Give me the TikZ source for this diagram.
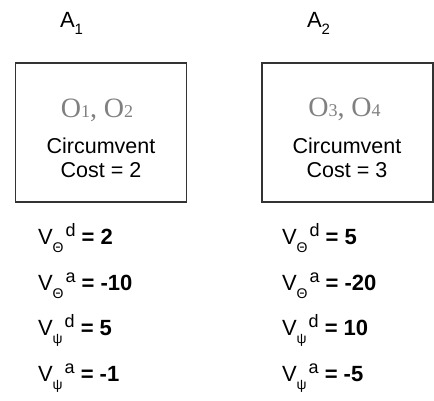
\documentclass[tikz,border=0pt]{standalone}
\usepackage{fontspec}
\setmainfont{Liberation Sans}
\newfontfamily\objfont{Liberation Serif}
\usetikzlibrary{positioning}
\newcommand{\valrow}[3]{V\raisebox{-8pt}{\fontsize{14}{14}\selectfont #1}\hspace{2pt}\raisebox{8pt}{\fontsize{18}{18}\selectfont #2}\ {\bfseries = #3}}
\newcommand{\objs}[2]{O{\fontsize{18}{18}\selectfont #1}, O{\fontsize{18}{18}\selectfont #2}}

\begin{document}
\begin{tikzpicture}[
  x=1pt, y=-1pt,
  every node/.style={inner sep=0pt, outer sep=0pt},
  agent/.style={anchor=base west, font=\fontsize{22}{24}\selectfont},
  optbox/.style={draw=black!80, line width=1.1pt, minimum width=171pt, minimum height=139pt},
  objtxt/.style={anchor=base, text=black!50, font=\objfont\fontsize{28}{30}\selectfont},
  costtxt/.style={anchor=base, font=\fontsize{21.5}{24}\selectfont},
  valtxt/.style={anchor=base west, font=\fontsize{22}{24}\selectfont}
]
\useasboundingbox (0,0) rectangle (434,400);
\node[agent] (a1) at (60,27) {A\raisebox{-7pt}{\fontsize{15}{15}\selectfont 1}};
\node[agent] (a2) at (307,27) {A\raisebox{-7pt}{\fontsize{15}{15}\selectfont 2}};
\node[optbox] (box1) at (101,132.5) {};
\node[optbox] (box2) at (347.5,132.5) {};
\node[objtxt] (o12) at (97,117) {\objs{1}{2}};
\node[objtxt] (o34) at (344.5,116) {\objs{3}{4}};
\node[costtxt] (c1) at (101,153) {Circumvent};
\node[costtxt] (k1) at (101,177) {Cost = 2};
\node[costtxt] (c2) at (347,153) {Circumvent};
\node[costtxt] (k2) at (347,177) {Cost = 3};
% values for A1
\node[valtxt] (v1d) at (38,244) {\valrow{Θ}{d}{2}};
\node[valtxt] (v1a) at (38,290) {\valrow{Θ}{a}{-10}};
\node[valtxt] (v1pd) at (38,335) {\valrow{ψ}{d}{5}};
\node[valtxt] (v1pa) at (38,381) {\valrow{ψ}{a}{-1}};
% values for A2
\node[valtxt] (v2d) at (282,244) {\valrow{Θ}{d}{5}};
\node[valtxt] (v2a) at (282,290) {\valrow{Θ}{a}{-20}};
\node[valtxt] (v2pd) at (282,335) {\valrow{ψ}{d}{10}};
\node[valtxt] (v2pa) at (282,381) {\valrow{ψ}{a}{-5}};
\end{tikzpicture}
\end{document}
